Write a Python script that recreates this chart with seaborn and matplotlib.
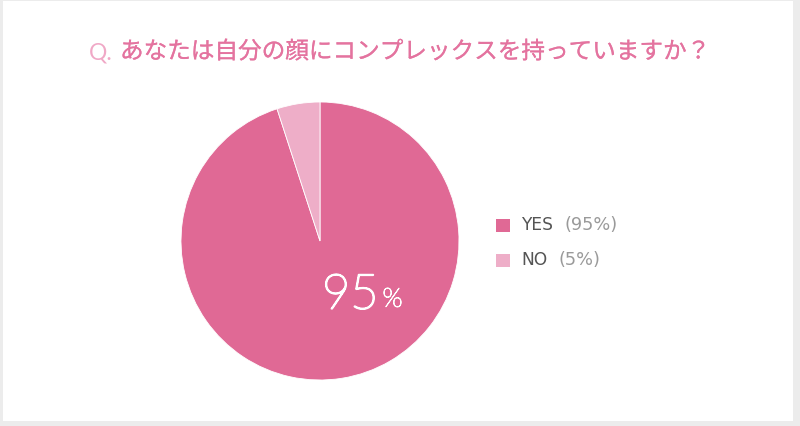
import matplotlib
matplotlib.use("Agg")
import matplotlib.pyplot as plt
import matplotlib.patheffects as pe
from matplotlib.patches import Rectangle
import seaborn as sns

sns.set_style("white")
plt.rcParams["font.family"] = ["Lato", "Noto Sans CJK JP", "DejaVu Sans"]

# data
labels = ["YES", "NO"]
values = [95, 5]
colors = ["#e06995", "#eeaec8"]
title_q = "Q."
title_text = "あなたは自分の顔にコンプレックスを持っていますか？"

W, H = 800, 426
fig = plt.figure(figsize=(W / 100, H / 100), dpi=100)
fig.patch.set_facecolor("#ececec")
# white card inside a thin grey frame
fig.add_artist(Rectangle((3 / W, 5 / H), 790 / W, 420 / H, transform=fig.transFigure,
                         facecolor="white", edgecolor="none", zorder=0))

# pie axes: centre (320, 241) px, radius 139 px
cx, cy, r = 320, 241, 139
ax = fig.add_axes([(cx - r) / W, (H - cy - r) / H, 2 * r / W, 2 * r / H])
wedges, _ = ax.pie(values, colors=colors, startangle=90, counterclock=False,
                   radius=1, wedgeprops=dict(edgecolor="white", linewidth=0.6))
ax.set_xlim(-1, 1)
ax.set_ylim(-1, 1)
ax.set_aspect("equal")
ax.axis("off")
ax.patch.set_alpha(0)

# title
fig.text(89 / W, 1 - 53 / H, title_q, color="#f0a8c6", fontsize=16.5,
         family=["Lato"], va="center", ha="left")
fig.text(120 / W, 1 - 52 / H, title_text, color="#e4739f", fontsize=17,
         family=["Noto Sans CJK JP"], va="center", ha="left",
         path_effects=[pe.withStroke(linewidth=0.15, foreground="#e4739f")])

# big percentage label inside the main slice (thin strokes)
fig.canvas.draw()
rend = fig.canvas.get_renderer()
t95 = ax.text(0.015, -0.39, f"{values[0]}", color="white", fontsize=35,
              fontweight="light", family=["Lato"], ha="left", va="center",
              path_effects=[pe.withStroke(linewidth=1.3, foreground="white")])
fig.canvas.draw()
bb = t95.get_window_extent(rend)
fig.text((bb.x1 + 4) / W, (bb.y0 + 6) / H, "%", color="white", fontsize=19,
         fontweight="light", family=["Lato"], ha="left", va="bottom",
         path_effects=[pe.withStroke(linewidth=0.7, foreground="white")])

# legend
leg_y = [225, 260]
for lab, val, col, y in zip(labels, values, colors, leg_y):
    fig.add_artist(Rectangle((496 / W, (H - y - 7) / H), 14 / W, 13 / H,
                             transform=fig.transFigure, facecolor=col,
                             edgecolor="none"))
    t = fig.text(521 / W, 1 - y / H, lab, color="#555555", fontsize=12.3,
                 family=["DejaVu Sans"], va="center", ha="left")
    fig.canvas.draw()
    b = t.get_window_extent(rend)
    fig.text((b.x1 + 11) / W, 1 - y / H, f"({val}%)", color="#9a9a9a",
             fontsize=12.8, family=["DejaVu Sans"], va="center", ha="left")

fig.savefig("out.png", dpi=100)
